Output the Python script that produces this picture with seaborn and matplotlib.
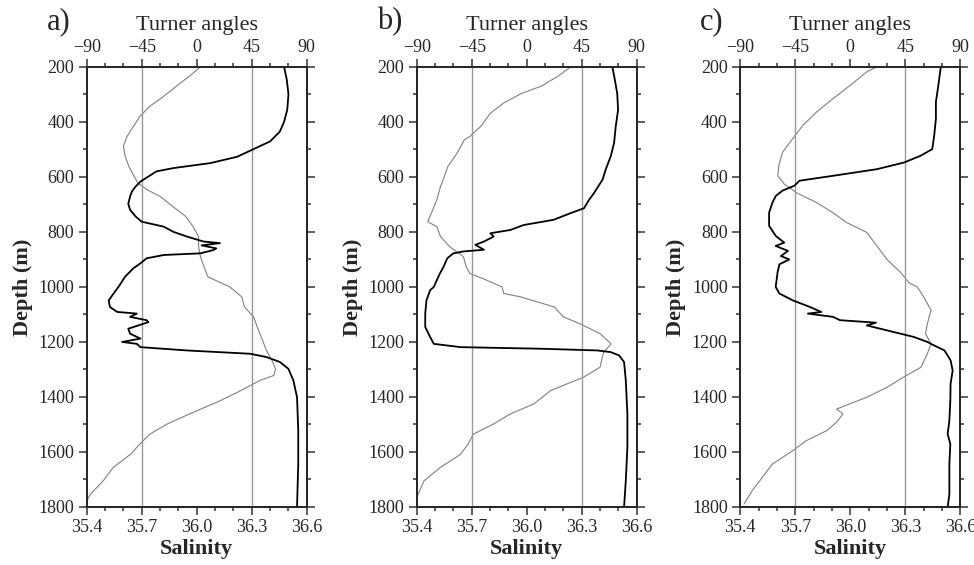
import numpy as np
import pandas as pd
import seaborn as sns
import matplotlib.pyplot as plt
from matplotlib.ticker import MultipleLocator

# panel a) Turner angle (black) and salinity (grey) profiles
depth_tu_a = [200, 246, 300, 356, 400, 435, 471, 500, 527, 550, 568, 580, 600, 617, 635, 653, 671, 698,
              720, 744, 763, 781, 800, 817, 835, 841, 849, 860, 866, 878, 884, 896, 914, 933, 963, 1000,
              1024, 1049, 1073, 1091, 1097, 1109, 1121, 1128, 1152, 1170, 1188, 1200, 1207, 1219, 1231,
              1243, 1255, 1273, 1298, 1340, 1401, 1522, 1644, 1800]
turner_a = [71.4, 73.6, 75, 74, 71.4, 68, 60, 46, 33, 11, -19, -33, -40, -46, -50, -53, -54.5, -56,
            -54.5, -50, -45, -27, -19, -8, 5.5, 19, 4, 16, 13.6, 3, -27, -41, -46, -52, -58.6, -64,
            -68, -72, -71, -65, -49, -54.5, -41, -39.5, -56, -54.5, -46, -61, -49, -46, -8,
            43.6, 57, 68, 75, 79, 82, 83, 83, 82]
depth_sal_a = [200, 234, 270, 307, 343, 380, 416, 453, 489, 525, 562, 600, 623, 647, 671, 708, 744, 781,
               817, 854, 890, 927, 963, 1000, 1036, 1073, 1109, 1146, 1188, 1231, 1267, 1298, 1322, 1340,
               1377, 1413, 1462, 1498, 1535, 1571, 1608, 1656, 1705, 1754, 1778]
salinity_a = [36.02, 35.96, 35.89, 35.82, 35.745, 35.69, 35.655, 35.62, 35.60, 35.61, 35.63, 35.66, 35.68,
              35.73, 35.80, 35.87, 35.94, 35.98, 36.01, 36.01, 36.02, 36.04, 36.06, 36.18, 36.245, 36.26,
              36.31, 36.33, 36.355, 36.38, 36.41, 36.43, 36.42, 36.345, 36.24, 36.13, 35.96, 35.84,
              35.745, 35.69, 35.64, 35.545, 35.49, 35.42, 35.40]

# panel b)
depth_tu_b = [200, 246, 297, 356, 416, 477, 525, 574, 610, 659, 683, 714, 732, 756, 775, 793, 805, 817,
              835, 847, 865, 871, 878, 896, 927, 951, 1000, 1012, 1049, 1097, 1146, 1182, 1207, 1219,
              1225, 1231, 1237, 1249, 1273, 1340, 1462, 1583, 1705, 1800]
turner_b = [70, 72, 74, 74.7, 72.8, 71.4, 68.7, 64.5, 62, 55, 51, 46.8, 35.8, 22, -2.5, -13.4, -29.8, -27,
            -35, -42, -35, -51.7, -60, -65, -68, -71, -76, -79, -82, -83, -83, -79, -76, -54,
            14, 57.7, 68.7, 75.5, 79.6, 81, 82.3, 82.3, 81, 79.6]
depth_sal_b = [200, 234, 270, 297, 333, 370, 416, 453, 465, 514, 562, 600, 635, 683, 732, 763, 781, 817,
               854, 890, 927, 951, 975, 1000, 1024, 1036, 1073, 1109, 1134, 1170, 1207, 1237, 1261, 1292,
               1328, 1377, 1425, 1462, 1498, 1535, 1571, 1608, 1656, 1705, 1766]
salinity_b = [36.24, 36.17, 36.08, 35.97, 35.87, 35.80, 35.75, 35.69, 35.66, 35.62, 35.57, 35.55, 35.53,
              35.51, 35.48, 35.46, 35.51, 35.53, 35.58, 35.655, 35.67, 35.69, 35.78, 35.865, 35.875,
              35.965, 36.15, 36.20, 36.29, 36.40, 36.46, 36.42, 36.41, 36.40, 36.31, 36.13, 36.04,
              35.91, 35.82, 35.71, 35.68, 35.64, 35.53, 35.44, 35.40]

# panel c)
depth_tu_c = [200, 267, 328, 389, 450, 499, 523, 548, 572, 596, 614, 632, 650, 669, 693, 730, 778, 815,
              839, 851, 869, 888, 900, 918, 948, 1000, 1024, 1049, 1073, 1091, 1097, 1109, 1121, 1130,
              1140, 1158, 1182, 1200, 1213, 1231, 1267, 1304, 1352, 1413, 1486, 1535, 1571, 1644, 1705,
              1754, 1800]
turner_c = [74, 72, 70, 70, 68.6, 67, 57.6, 43.8, 21.8, -14, -41.6, -45.7, -55.4, -60.9, -63.6, -66.4,
            -66.4, -60.9, -54, -61, -51, -56.7, -49.9, -58, -59.5, -61, -58, -47, -33, -23.7, -34.7, -14,
            -8.5, 21, 13.5, 30, 52, 63, 68.6, 77, 82, 83.7, 82, 81.8, 81, 79.6, 81.8, 81, 81, 81, 79.6]
depth_sal_c = [200, 218, 267, 316, 365, 414, 462, 511, 560, 596, 626, 657, 693, 730, 766, 802, 851, 900,
               948, 985, 1000, 1036, 1085, 1134, 1170, 1207, 1243, 1292, 1328, 1365, 1401, 1444, 1462,
               1492, 1523, 1559, 1596, 1644, 1693, 1741, 1790]
salinity_c = [36.145, 36.09, 36.0, 35.905, 35.815, 35.74, 35.685, 35.63, 35.61, 35.605, 35.64, 35.705,
              35.815, 35.905, 35.98, 36.09, 36.145, 36.2, 36.275, 36.32, 36.365, 36.40, 36.44, 36.42,
              36.41, 36.44, 36.42, 36.385, 36.29, 36.20, 36.09, 35.925, 35.96, 35.925, 35.87, 35.76,
              35.685, 35.575, 35.52, 35.465, 35.42]

panel_names = ['a)', 'b)', 'c)']
turner_refs = [-45, 45]
sal_ticks = [35.4, 35.7, 36.0, 36.3, 36.6]
turner_ticks = [-90, -45, 0, 45, 90]
depth_ticks = [200, 400, 600, 800, 1000, 1200, 1400, 1600, 1800]

panels = [
    (depth_tu_a, turner_a, depth_sal_a, salinity_a),
    (depth_tu_b, turner_b, depth_sal_b, salinity_b),
    (depth_tu_c, turner_c, depth_sal_c, salinity_c),
]

sns.set_style("ticks")
plt.rcParams['font.family'] = ['Liberation Serif', 'DejaVu Serif']
plt.rcParams['axes.linewidth'] = 1.3
plt.rcParams['axes.edgecolor'] = '0.15'

fig = plt.figure(figsize=(9.74, 5.65), dpi=100)
lefts = [0.089, 0.4278, 0.760]

for i, (d_tu, tu, d_sal, sal) in enumerate(panels):
    ax = fig.add_axes([lefts[i], 0.1027, 0.226, 0.779])
    sal_df = pd.DataFrame({'depth': d_sal, 'salinity': sal})
    tu_df = pd.DataFrame({'depth': d_tu, 'turner': tu})

    sns.lineplot(data=sal_df, x='salinity', y='depth', orient='y', ax=ax,
                 color='0.5', lw=0.8, estimator=None)
    ax.set_xlim(35.4, 36.6)
    ax.set_ylim(1800, 200)
    ax.set_xticks(sal_ticks)
    ax.set_xticklabels([f'{t:.1f}' for t in sal_ticks])
    ax.xaxis.set_minor_locator(MultipleLocator(0.1))
    ax.set_yticks(depth_ticks)
    ax.yaxis.set_minor_locator(MultipleLocator(100))
    ax.tick_params(which='both', direction='out', right=True, labelsize=13,
                   width=1.1, color='0.2', pad=3)
    ax.tick_params(which='major', length=6)
    ax.tick_params(which='minor', length=3)
    ax.set_xlabel('Salinity', fontsize=16, fontweight='bold', labelpad=2)
    ax.set_ylabel('Depth (m)', fontsize=16, fontweight='bold', labelpad=4)

    ax2 = ax.twiny()
    for r in turner_refs:
        ax2.axvline(r, color='0.6', lw=1.0, zorder=0)
    sns.lineplot(data=tu_df, x='turner', y='depth', orient='y', ax=ax2,
                 color='black', lw=1.3, estimator=None)
    ax2.set_xlim(-90, 90)
    ax2.set_ylim(1800, 200)
    ax2.set_xticks(turner_ticks)
    ax2.xaxis.set_minor_locator(MultipleLocator(15))
    ax2.tick_params(which='both', direction='out', labelsize=13, width=1.1, color='0.2', pad=2)
    ax2.tick_params(which='major', length=6)
    ax2.tick_params(which='minor', length=3)
    ax2.set_xlabel('Turner angles', fontsize=16, labelpad=6)

    fig.text(lefts[i] - 0.041, 0.988, panel_names[i], fontsize=22, va='top', ha='left')

fig.savefig('out.png', dpi=100)
